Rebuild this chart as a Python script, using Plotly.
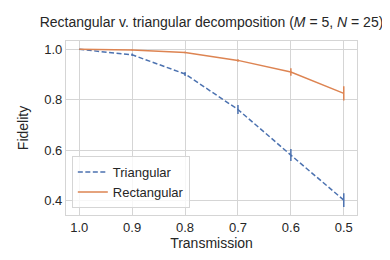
import plotly.graph_objects as go

transmission = [1.0, 0.9, 0.8, 0.7, 0.6, 0.5]
tri_fidelity = [1.0, 0.978, 0.902, 0.761, 0.580, 0.401]
tri_err = [0.0, 0.005, 0.008, 0.018, 0.024, 0.027]
rect_fidelity = [1.0, 0.997, 0.987, 0.956, 0.910, 0.825]
rect_err = [0.0, 0.002, 0.003, 0.005, 0.015, 0.028]
x_ticks = [1.0, 0.9, 0.8, 0.7, 0.6, 0.5]
y_ticks = [0.4, 0.6, 0.8, 1.0]

blue = "#4C72B0"
orange = "#DD8452"
font = "Liberation Sans, Arial, sans-serif"

fig = go.Figure()
fig.add_trace(go.Scatter(
    x=transmission, y=tri_fidelity, mode="lines", name="Triangular",
    line=dict(color=blue, width=1.5, dash="5px,2.5px"),
    error_y=dict(type="data", array=tri_err, visible=True, color=blue, thickness=1.5, width=0),
))
fig.add_trace(go.Scatter(
    x=transmission, y=rect_fidelity, mode="lines", name="Rectangular",
    line=dict(color=orange, width=1.5),
    error_y=dict(type="data", array=rect_err, visible=True, color=orange, thickness=1.5, width=0),
))

fig.update_layout(
    width=390, height=260,
    margin=dict(l=58, r=41, t=33, b=53),
    paper_bgcolor="white", plot_bgcolor="white",
    font=dict(family=font, size=13, color="#262626"),
    title=dict(
        text="Rectangular v. triangular decomposition (<i>M</i> = 5, <i>N</i> = 25)",
        x=0.5, xref="paper", xanchor="center", y=0.945, yanchor="middle",
        font=dict(size=14, family=font, color="#262626"),
    ),
    xaxis=dict(
        range=[1.025, 0.475], tickvals=x_ticks, ticktext=[f"{v:.1f}" for v in x_ticks],
        showgrid=True, gridcolor="#d5d5d5", gridwidth=1, zeroline=False,
        showline=True, linecolor="#d5d5d5", linewidth=1.2, mirror=True,
        ticks="", tickfont=dict(size=13),
        title=dict(text="Transmission", font=dict(size=14), standoff=2),
    ),
    yaxis=dict(
        range=[0.342, 1.033], tickvals=y_ticks, ticktext=[f"{v:.1f}" for v in y_ticks],
        showgrid=True, gridcolor="#d5d5d5", gridwidth=1, zeroline=False,
        showline=True, linecolor="#d5d5d5", linewidth=1.2, mirror=True,
        ticks="", tickfont=dict(size=13),
        title=dict(text="Fidelity", font=dict(size=14), standoff=12),
    ),
    legend=dict(
        x=0.02, y=0.04, xanchor="left", yanchor="bottom",
        bgcolor="rgba(255,255,255,0.8)", bordercolor="#d5d5d5", borderwidth=1,
        font=dict(size=13), tracegroupgap=0, itemwidth=30,
    ),
    showlegend=True,
)

fig.write_html("out.html")
